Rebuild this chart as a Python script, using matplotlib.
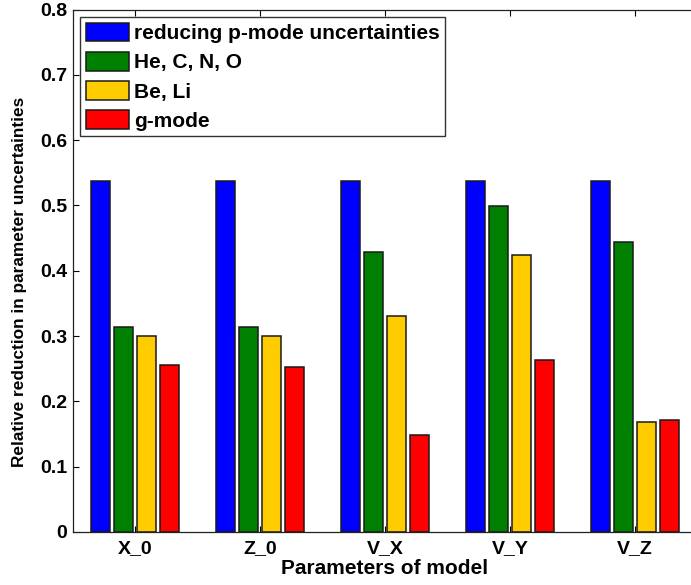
import matplotlib
matplotlib.use("Agg")
import matplotlib.pyplot as plt
import numpy as np

plt.rcParams['font.family'] = ['Liberation Sans', 'DejaVu Sans']
plt.rcParams['font.weight'] = 'bold'

categories = ["X_0", "Z_0", "V_X", "V_Y", "V_Z"]
series_names = ["reducing p-mode uncertainties", "He, C, N, O", "Be, Li", "g-mode"]
pmode = [0.538, 0.538, 0.538, 0.538, 0.538]
hecno = [0.314, 0.314, 0.429, 0.499, 0.444]
beli = [0.300, 0.300, 0.331, 0.424, 0.168]
gmode = [0.255, 0.253, 0.148, 0.263, 0.172]
series = [pmode, hecno, beli, gmode]
colors = ["#0000ff", "#008000", "#ffcc00", "#ff0000"]
yticks = [0, 0.1, 0.2, 0.3, 0.4, 0.5, 0.6, 0.7, 0.8]

W, H = 691, 585
fig = plt.figure(figsize=(W / 100, H / 100), dpi=100)
ax = fig.add_axes([72.5 / W, (H - 532) / H, 625 / W, (532 - 9.5) / H])

x = np.arange(1, len(categories) + 1)
offsets = [-0.276, -0.092, 0.092, 0.276]
width = 0.148
for vals, off, c, name in zip(series, offsets, colors, series_names):
    ax.bar(x + off, vals, width=width, color=c, edgecolor="#1a1a1a",
           linewidth=1.1, label=name, zorder=2)

ax.set_xlim(0.5, 5.5)
ax.set_ylim(0, 0.8)
ax.set_xticks(x)
ax.set_xticklabels(categories)
ax.set_yticks(yticks)
ax.set_yticklabels(["0"] + [f"{v:.1f}" for v in yticks[1:]])
ax.tick_params(direction="in", length=4, width=0.8, labelsize=14,
               top=True, right=True)
ax.tick_params(axis="y", pad=4)
ax.tick_params(axis="x", pad=6)
for lab in ax.get_xticklabels() + ax.get_yticklabels():
    lab.set_fontweight("bold")
for s in ax.spines.values():
    s.set_linewidth(0.9)
    s.set_color("#222222")

ax.set_xlabel("Parameters of model", fontsize=15, fontweight="bold", labelpad=1)
ax.set_ylabel("Relative reduction in parameter uncertainties", fontsize=12.4,
              fontweight="bold", labelpad=8)
ax.yaxis.set_label_coords(-0.073, 0.478)

leg = ax.legend(loc="upper left", fontsize=15, frameon=True, fancybox=False,
                edgecolor="black", handlelength=2.07, handleheight=1.01,
                labelspacing=0.42, handletextpad=0.25, borderpad=0.25,
                borderaxespad=0.38)
leg.get_frame().set_linewidth(1.0)
for t in leg.get_texts():
    t.set_fontweight("bold")

fig.savefig("out.png", dpi=100)
